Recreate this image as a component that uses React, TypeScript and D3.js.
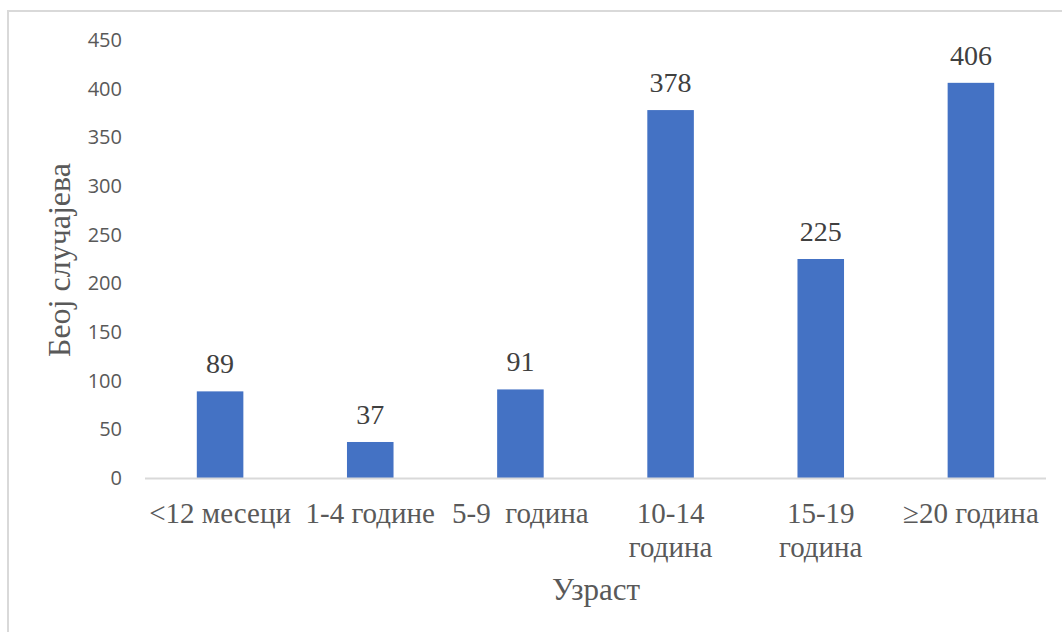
import { useEffect, useRef } from 'react'
import * as d3 from 'd3'

const categories = ['<12 месеци', '1-4 године', '5-9  година', '10-14 година', '15-19 година', '≥20 година']
// how each category label is broken into lines
const categoryLines = [['<12 месеци'], ['1-4 године'], ['5-9  година'], ['10-14', 'година'], ['15-19', 'година'], ['≥20 година']]
const cases = [89, 37, 91, 378, 225, 406]
const yTicks = [0, 50, 100, 150, 200, 250, 300, 350, 400, 450]

const yTitle = 'Беој случајева'
const xTitle = 'Узраст'

export default function App() {
  const svgRef = useRef<SVGSVGElement>(null)

  useEffect(() => {
    const svgEl = svgRef.current
    if (!svgEl) return

    const width = 1062
    const height = 632
    const serif = '"Liberation Serif", "Times New Roman", serif'
    const sans = '"Open Sans", "Noto Sans", sans-serif'

    const svg = d3.select(svgEl)
    svg.attr('width', width).attr('height', height).selectAll('*').remove()

    // Chart frame
    svg.append('rect')
      .attr('x', 8)
      .attr('y', 11)
      .attr('width', 1100)
      .attr('height', 700)
      .style('fill', '#fff')
      .style('stroke', '#d9d9d9')
      .style('stroke-width', '2')

    const x = d3.scaleBand<string>().domain(categories).range([145, 1046]).paddingInner(0.69).paddingOuter(0.345)
    const y = d3.scaleLinear().domain([0, 450]).range([478, 40])

    // Y tick labels
    const yAxisG = svg.append('g').attr('transform', 'translate(130,0)')
    yAxisG.call(d3.axisLeft(y).tickValues(yTicks).tickSize(0).tickPadding(8))
    yAxisG.select('.domain').remove()
    yAxisG.selectAll('text')
      .style('fill', '#595959')
      .style('font-size', '20px')
      .style('font-family', sans)

    // Bars
    svg.append('g')
      .selectAll('rect')
      .data(cases)
      .join('rect')
      .attr('x', (_, i) => x(categories[i])!)
      .attr('y', d => y(d))
      .attr('width', x.bandwidth())
      .attr('height', d => y(0) - y(d))
      .style('fill', '#4472c4')

    // Baseline
    svg.append('line')
      .attr('x1', 145).attr('x2', 1046)
      .attr('y1', y(0) + 0.5).attr('y2', y(0) + 0.5)
      .style('stroke', '#d9d9d9')
      .style('stroke-width', '2')

    // Data labels
    svg.append('g')
      .selectAll('text')
      .data(cases)
      .join('text')
      .attr('x', (_, i) => x(categories[i])! + x.bandwidth() / 2)
      .attr('y', d => y(d) - 18)
      .attr('text-anchor', 'middle')
      .style('fill', '#404040')
      .style('font-size', '28px')
      .style('font-family', serif)
      .text(d => d)

    // Category labels
    const catG = svg.append('g')
    categoryLines.forEach((lines, i) => {
      const t = catG.append('text')
        .attr('x', x(categories[i])! + x.bandwidth() / 2)
        .attr('y', 523)
        .attr('text-anchor', 'middle')
        .attr('xml:space', 'preserve')
        .style('white-space', 'pre')
        .style('fill', '#595959')
        .style('font-size', '29px')
        .style('font-family', serif)
      lines.forEach((line, j) => {
        t.append('tspan')
          .attr('x', x(categories[i])! + x.bandwidth() / 2)
          .attr('y', 523 + j * 34)
          .text(line)
      })
    })

    // Axis titles
    svg.append('text')
      .attr('x', 596)
      .attr('y', 600)
      .attr('text-anchor', 'middle')
      .style('fill', '#595959')
      .style('font-size', '31px')
      .style('font-family', serif)
      .text(xTitle)

    svg.append('text')
      .attr('transform', 'translate(70,260) rotate(-90)')
      .attr('text-anchor', 'middle')
      .style('fill', '#595959')
      .style('font-size', '32px')
      .style('font-family', serif)
      .text(yTitle)
  }, [])

  return (
    <div style={{ position: 'fixed', left: 0, top: 0, width: 1062, height: 632, background: '#fff', overflow: 'hidden' }}>
      <svg ref={svgRef} style={{ display: 'block' }} />
    </div>
  )
}
